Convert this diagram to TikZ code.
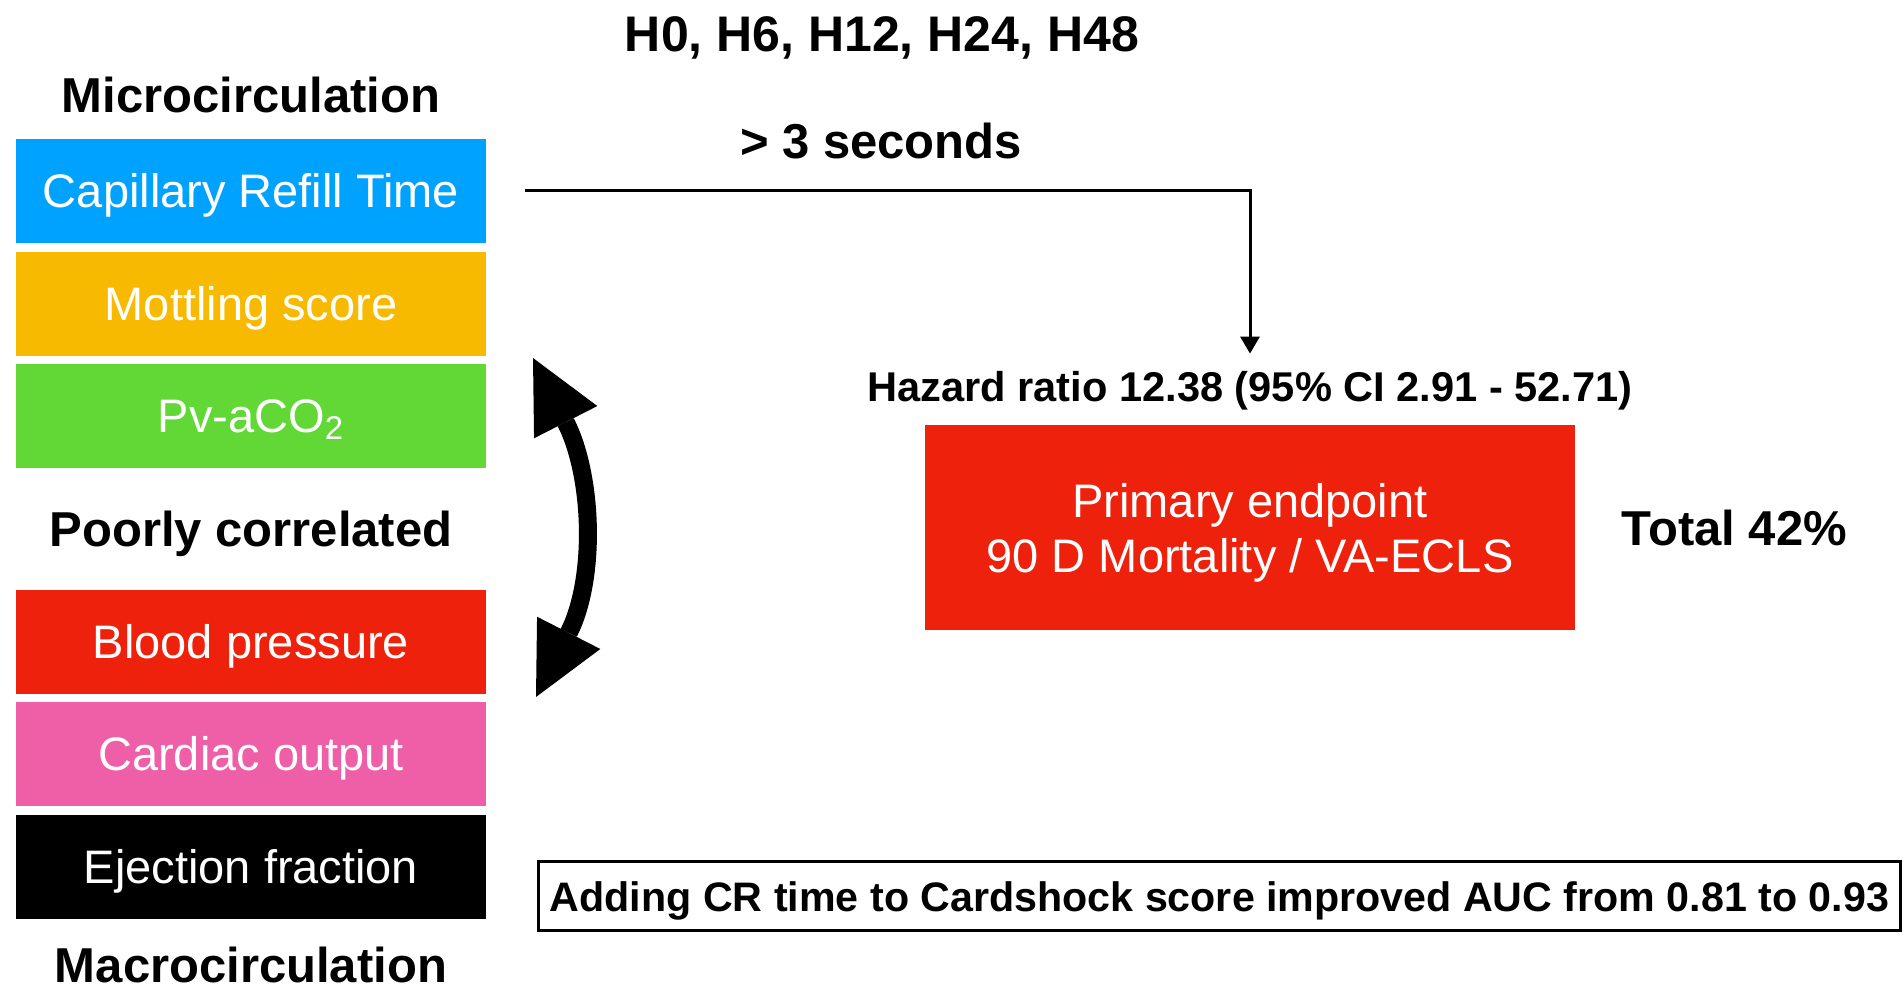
\documentclass[tikz,border=0pt]{standalone}
\usepackage{fontspec}
\setmainfont{Liberation Sans}
\usetikzlibrary{positioning, arrows.meta}

\definecolor{crtblue}{HTML}{00A2FF}
\definecolor{mottleyellow}{HTML}{F8BA00}
\definecolor{pcogreen}{HTML}{61D836}
\definecolor{bpred}{HTML}{EE220C}
\definecolor{copink}{HTML}{EF5FA7}

\begin{document}
\begin{tikzpicture}[
    x=0.5pt, y=0.5pt,
    metric/.style={rectangle, minimum width=235pt, minimum height=52pt, inner sep=0pt, text height=16.9pt, text depth=0pt, text=white, font=\fontsize{23.5}{28}\selectfont},
    heading/.style={inner sep=0pt, text height=17.6pt, text depth=0pt, font=\fontsize{24.5}{29}\selectfont\bfseries},
    note/.style={inner sep=0pt, text height=15pt, text depth=0pt, font=\fontsize{20.8}{25}\selectfont\bfseries},
]
\useasboundingbox (0,0) rectangle (1904,987);

% microcirculation markers
\node[heading] (micro) at (251,892) {Microcirculation};
\node[metric, fill=crtblue] (crt) at (251,796) {Capillary Refill Time};
\node[metric, fill=mottleyellow] (mottling) at (251,683) {Mottling score};
\node[metric, fill=pcogreen] (pco2) at (251,571.5) {Pv-aCO\textsubscript{2}};

\node[heading] (poor) at (251,458) {Poorly correlated};

% macrocirculation markers
\node[metric, fill=bpred] (bp) at (251,345) {Blood pressure};
\node[metric, fill=copink] (co) at (251,233) {Cardiac output};
\node[metric, fill=black] (ef) at (251,120) {Ejection fraction};
\node[heading] (macro) at (251,22) {Macrocirculation};

% two-way arrow between groups
\coordinate (corrtop) at (533,629);
\coordinate (corrbot) at (536,290);
\draw[line width=9pt, {Triangle[length=36pt, width=35.5pt, line width=0pt]}-{Triangle[length=36pt, width=35.5pt, line width=0pt]}] (corrtop) to[out=-63, in=63] (corrbot);

% timing and outcome
\node[heading, text height=18pt, font=\fontsize{25}{30}\selectfont\bfseries] (times) at (882,953) {H0, H6, H12, H24, H48};
\node[heading] (cutoff) at (881,846) {> 3 seconds};

\node[note] (hazard) at (1250,601) {Hazard ratio 12.38 (95\% CI 2.91 - 52.71)};
\node[rectangle, fill=bpred, minimum width=325pt, minimum height=102.5pt, text depth=0pt, text=white, align=center, font=\fontsize{23.5}{27.5}\selectfont] (primary) at (1250,459.5) {Primary endpoint\\90 D Mortality / VA-ECLS};
\node[heading, right=23pt of primary] (total) {Total 42\%};

\draw[line width=1.5pt, -{Triangle[length=8.5pt, width=9.5pt]}, shorten <=19.5pt, shorten >=8.5pt] (crt.east) -| (hazard.north);

\node[note, draw, line width=1.5pt, minimum width=681pt, minimum height=34.5pt, font=\fontsize{20.6}{25}\selectfont\bfseries] (auc) at (1219.5,91) {Adding CR time to Cardshock score improved AUC from 0.81 to 0.93};

\end{tikzpicture}
\end{document}
